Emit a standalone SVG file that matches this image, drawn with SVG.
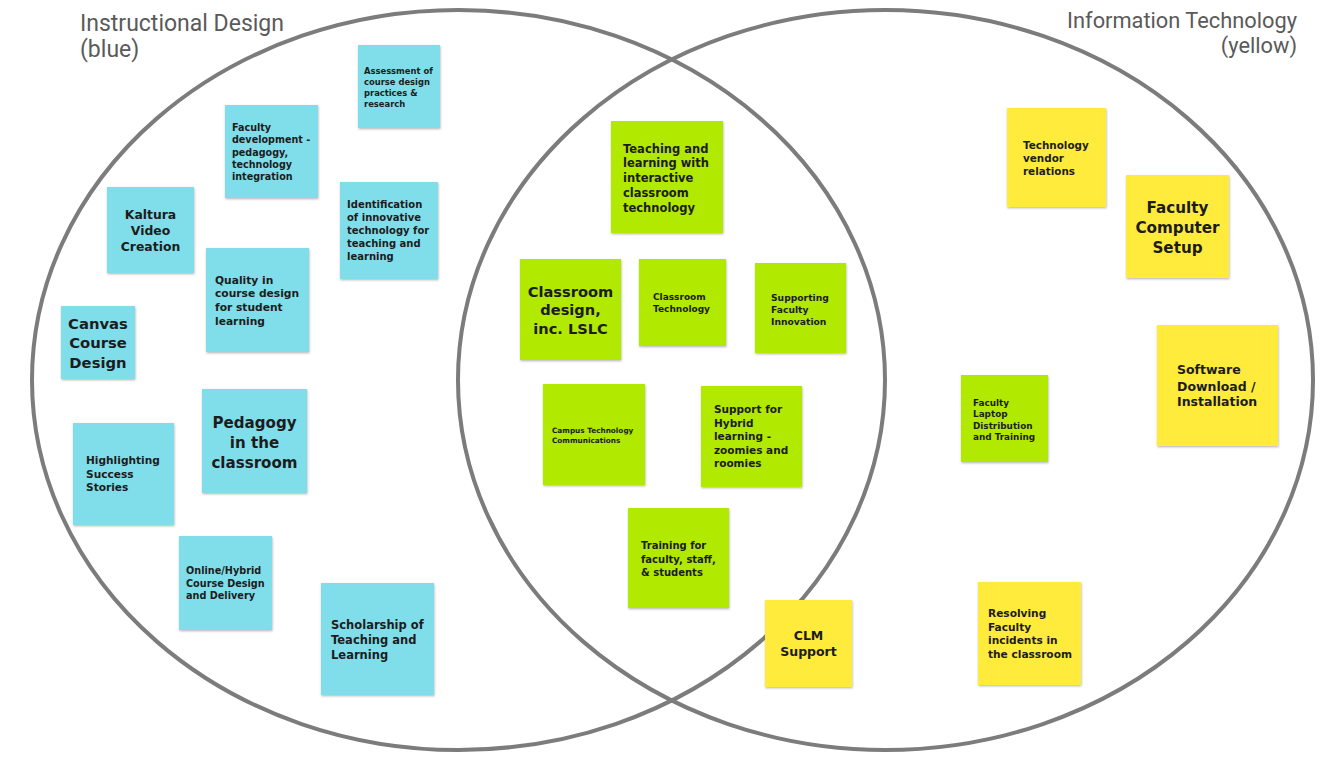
<svg xmlns="http://www.w3.org/2000/svg" width="1340" height="764" viewBox="0 0 1340 764">
<defs>
<filter id="sh" x="-10%" y="-10%" width="125%" height="125%">
<feDropShadow dx="0.5" dy="1.2" stdDeviation="0.9" flood-color="#000" flood-opacity="0.28"/>
</filter>
<filter id="blur" x="-5%" y="-5%" width="110%" height="110%">
<feGaussianBlur stdDeviation="0.6"/>
</filter>
<style>
.ring{fill:none;stroke:#7b7b7b;stroke-width:4}
.title{font-family:Roboto,"Liberation Sans",sans-serif;fill:#5a5a5a}
.blue{fill:#80deea}
.green{fill:#b1e902}
.yellow{fill:#ffeb3b}
.n{filter:url(#sh)}
.t{font-family:"DejaVu Sans","Liberation Sans",sans-serif;font-weight:700;fill:#1c1c1c}
.mid{text-anchor:middle}
</style>
</defs>
<rect width="1340" height="764" fill="#ffffff"/>
<g id="circles">
<ellipse class="ring" cx="458.5" cy="380" rx="426.5" ry="370" filter="url(#blur)"/>
<ellipse class="ring" cx="885.5" cy="380" rx="427.5" ry="370" filter="url(#blur)"/>
</g>
<g id="titles">
<text class="title" font-size="23" x="80" y="31">Instructional Design</text>
<text class="title" font-size="23" x="80" y="57">(blue)</text>
<text class="title" font-size="21.8" x="1297" y="28" text-anchor="end">Information Technology</text>
<text class="title" font-size="21.8" x="1297" y="53" text-anchor="end">(yellow)</text>
</g>
<g id="connectors"></g>
<g id="n1"><rect class="n blue" x="358" y="45" width="82" height="83"/>
<text class="t" font-size="8.4"><tspan x="364" y="73.5">Assessment of</tspan><tspan x="364" y="84.7">course design</tspan><tspan x="364" y="95.9">practices &amp;</tspan><tspan x="364" y="107.1">research</tspan></text></g>
<g id="n2"><rect class="n blue" x="225" y="105" width="93" height="93"/>
<text class="t" font-size="9.6"><tspan x="232" y="131">Faculty</tspan><tspan x="232" y="143.3">development -</tspan><tspan x="232" y="155.6">pedagogy,</tspan><tspan x="232" y="167.9">technology</tspan><tspan x="232" y="180.2">integration</tspan></text></g>
<g id="n3"><rect class="n blue" x="107" y="187" width="87" height="86"/>
<text class="t mid" font-size="12.4"><tspan x="150.5" y="219">Kaltura</tspan><tspan x="150.5" y="235">Video</tspan><tspan x="150.5" y="251">Creation</tspan></text></g>
<g id="n4"><rect class="n blue" x="340" y="182" width="98" height="97"/>
<text class="t" font-size="10"><tspan x="347" y="208">Identification</tspan><tspan x="347" y="221">of innovative</tspan><tspan x="347" y="234">technology for</tspan><tspan x="347" y="247">teaching and</tspan><tspan x="347" y="260">learning</tspan></text></g>
<g id="n5"><rect class="n blue" x="206" y="248" width="103" height="104"/>
<text class="t" font-size="10.7"><tspan x="215" y="283.5">Quality in</tspan><tspan x="215" y="297.3">course design</tspan><tspan x="215" y="311.1">for student</tspan><tspan x="215" y="324.9">learning</tspan></text></g>
<g id="n6"><rect class="n blue" x="61" y="306" width="74" height="73"/>
<text class="t mid" font-size="14.8"><tspan x="98" y="328.5">Canvas</tspan><tspan x="98" y="348">Course</tspan><tspan x="98" y="367.5">Design</tspan></text></g>
<g id="n7"><rect class="n blue" x="202" y="389" width="105" height="104"/>
<text class="t mid" font-size="15.1"><tspan x="254.5" y="428">Pedagogy</tspan><tspan x="254.5" y="448">in the</tspan><tspan x="254.5" y="468">classroom</tspan></text></g>
<g id="n8"><rect class="n blue" x="73" y="423" width="101" height="102"/>
<text class="t" font-size="10.6"><tspan x="86" y="464">Highlighting</tspan><tspan x="86" y="477.5">Success</tspan><tspan x="86" y="491">Stories</tspan></text></g>
<g id="n9"><rect class="n blue" x="179" y="536" width="93" height="94"/>
<text class="t" font-size="9.7"><tspan x="186" y="574">Online/Hybrid</tspan><tspan x="186" y="586.5">Course Design</tspan><tspan x="186" y="599">and Delivery</tspan></text></g>
<g id="n10"><rect class="n blue" x="321" y="583" width="113" height="112"/>
<text class="t" font-size="11.5"><tspan x="331" y="628.5">Scholarship of</tspan><tspan x="331" y="643.5">Teaching and</tspan><tspan x="331" y="658.5">Learning</tspan></text></g>
<g id="n11"><rect class="n green" x="611" y="121" width="112" height="112"/>
<text class="t" font-size="11.5"><tspan x="623" y="152.5">Teaching and</tspan><tspan x="623" y="167.3">learning with</tspan><tspan x="623" y="182.1">interactive</tspan><tspan x="623" y="196.9">classroom</tspan><tspan x="623" y="211.7">technology</tspan></text></g>
<g id="n12"><rect class="n green" x="520" y="259" width="101" height="101"/>
<text class="t mid" font-size="14.6"><tspan x="570.5" y="296.5">Classroom</tspan><tspan x="570.5" y="315">design,</tspan><tspan x="570.5" y="333.5">inc. LSLC</tspan></text></g>
<g id="n13"><rect class="n green" x="639" y="259" width="87" height="87"/>
<text class="t" font-size="9"><tspan x="653" y="300">Classroom</tspan><tspan x="653" y="312">Technology</tspan></text></g>
<g id="n14"><rect class="n green" x="755" y="263" width="91" height="90"/>
<text class="t" font-size="9.2"><tspan x="771" y="300.5">Supporting</tspan><tspan x="771" y="312.5">Faculty</tspan><tspan x="771" y="324.5">Innovation</tspan></text></g>
<g id="n15"><rect class="n green" x="543" y="384" width="102" height="101"/>
<text class="t" font-size="7.3"><tspan x="552" y="432.5">Campus Technology</tspan><tspan x="552" y="442.5">Communications</tspan></text></g>
<g id="n16"><rect class="n green" x="701" y="386" width="101" height="101"/>
<text class="t" font-size="10.5"><tspan x="714" y="413">Support for</tspan><tspan x="714" y="426.5">Hybrid</tspan><tspan x="714" y="440">learning -</tspan><tspan x="714" y="453.5">zoomies and</tspan><tspan x="714" y="467">roomies</tspan></text></g>
<g id="n17"><rect class="n green" x="628" y="508" width="101" height="100"/>
<text class="t" font-size="10"><tspan x="641" y="549">Training for</tspan><tspan x="641" y="562.5">faculty, staff,</tspan><tspan x="641" y="576">&amp; students</tspan></text></g>
<g id="n18"><rect class="n green" x="961" y="375" width="87" height="87"/>
<text class="t" font-size="8.85"><tspan x="973" y="405.5">Faculty</tspan><tspan x="973" y="417">Laptop</tspan><tspan x="973" y="428.5">Distribution</tspan><tspan x="973" y="440">and Training</tspan></text></g>
<g id="n19"><rect class="n yellow" x="765" y="600" width="87" height="87"/>
<text class="t mid" font-size="12.5"><tspan x="808.5" y="640">CLM</tspan><tspan x="808.5" y="656">Support</tspan></text></g>
<g id="n20"><rect class="n yellow" x="1007" y="108" width="99" height="99"/>
<text class="t" font-size="10.4"><tspan x="1023" y="149">Technology</tspan><tspan x="1023" y="162">vendor</tspan><tspan x="1023" y="175">relations</tspan></text></g>
<g id="n21"><rect class="n yellow" x="1126" y="175" width="103" height="103"/>
<text class="t mid" font-size="15.2"><tspan x="1177.5" y="213">Faculty</tspan><tspan x="1177.5" y="233">Computer</tspan><tspan x="1177.5" y="253">Setup</tspan></text></g>
<g id="n22"><rect class="n yellow" x="1157" y="325" width="121" height="121"/>
<text class="t" font-size="12.5"><tspan x="1177" y="374">Software</tspan><tspan x="1177" y="390.5">Download /</tspan><tspan x="1177" y="406">Installation</tspan></text></g>
<g id="n23"><rect class="n yellow" x="978" y="582" width="103" height="103"/>
<text class="t" font-size="10.6"><tspan x="988" y="617">Resolving</tspan><tspan x="988" y="630.5">Faculty</tspan><tspan x="988" y="644">incidents in</tspan><tspan x="988" y="657.5">the classroom</tspan></text></g>
</svg>
